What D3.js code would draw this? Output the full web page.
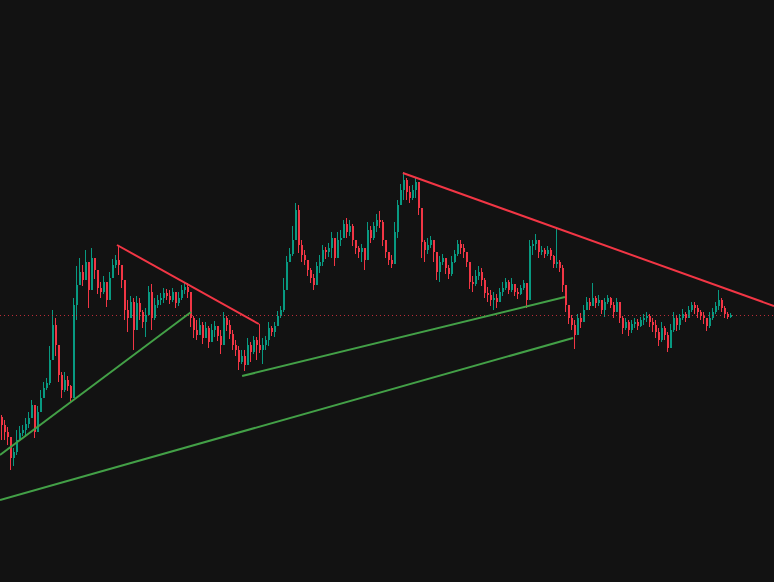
<!DOCTYPE html>
<html>
<head>
<meta charset="utf-8">
<script src="https://cdn.jsdelivr.net/npm/d3@7"></script>
<style>
  html, body { margin: 0; padding: 0; background: #121212; }
  #chart { width: 774px; height: 582px; }
</style>
</head>
<body>
<div id="chart"></div>
<script>
// candle values (open = previous close)
var closes = [175,168,163,142,148,160,167,170,176,182,195,168,188,202,212,217,240,275,255,225,
  210,220,214,202,295,315,328,320,338,310,342,330,312,308,318,300,322,335,340,335,
  320,290,282,298,270,297,288,278,285,308,282,295,300,302,307,304,300,308,297,302,
  310,313,308,282,270,265,275,262,272,258,270,274,264,255,282,275,266,255,250,238,
  244,235,255,248,260,255,250,255,260,272,268,274,284,290,310,338,346,360,390,355,
  345,340,330,322,315,334,338,350,348,352,362,342,360,362,376,368,374,360,352,348,
  352,340,370,362,374,380,378,360,348,340,336,368,395,410,420,408,402,410,418,392,
  358,350,355,360,348,328,338,342,332,326,338,346,356,352,348,338,318,316,324,328,
  320,307,305,300,302,298,308,312,318,310,316,308,306,312,317,300,354,356,360,348,
  350,346,350,344,336,338,332,315,295,282,275,265,282,278,290,298,294,302,297,300,
  290,298,302,295,288,298,282,272,278,270,276,278,274,280,282,284,278,275,268,260,
  272,265,252,270,282,275,282,286,282,290,295,292,288,284,282,274,282,288,294,300,
  292,286,283,285]

var highs = [185,180,173,162,152,170,174,175,182,188,200,188,194,210,218,222,254,290,282,250,
  228,228,224,215,302,334,342,335,350,335,352,340,328,318,324,318,328,341,345,355,
  334,315,300,304,302,304,302,290,292,314,316,302,305,307,312,311,310,312,306,308,
  315,318,317,308,284,280,282,278,278,274,276,279,272,270,288,284,280,270,260,254,
  250,250,262,258,264,263,276,262,264,278,274,278,289,294,322,344,352,374,397,395,
  360,350,338,332,326,338,345,355,353,357,368,360,368,370,380,382,380,376,360,354,
  356,350,378,374,378,386,389,380,356,348,345,378,400,416,428,422,414,415,423,410,
  392,360,362,364,360,338,344,346,342,335,344,350,360,360,356,348,338,324,330,334,
  332,322,313,310,308,306,312,318,322,320,322,314,312,315,320,316,360,360,366,360,
  354,352,354,352,345,372,340,335,312,295,285,280,286,287,295,303,302,317,304,305,
  300,302,305,303,298,302,296,284,282,280,280,282,281,283,286,288,286,282,280,272,
  278,274,268,276,288,285,286,291,288,294,298,298,295,290,288,282,288,292,298,310,
  302,294,288,287]

var lows = [160,160,155,130,134,145,159,164,163,172,182,162,172,190,202,210,215,250,244,218,
  202,208,209,197,205,280,315,314,325,292,317,321,306,302,306,293,302,322,332,325,
  312,280,268,282,250,288,280,272,263,288,270,280,292,295,297,300,296,298,292,294,
  300,306,302,273,262,260,266,256,262,252,262,263,259,246,268,269,261,250,244,230,
  236,229,242,238,246,240,247,236,250,254,264,263,274,282,288,320,338,344,365,347,
  338,335,324,317,310,320,327,334,341,343,342,334,348,354,366,362,364,354,346,342,
  338,330,345,357,360,368,372,354,342,335,332,338,362,395,400,400,397,400,402,385,
  342,338,346,352,338,320,318,335,326,321,324,337,344,346,342,333,311,308,314,320,
  314,302,298,294,290,292,300,304,310,306,308,304,301,305,310,292,306,345,350,342,
  345,342,344,340,332,332,328,308,288,276,270,251,268,272,280,290,290,296,292,294,
  286,283,296,292,282,290,277,266,270,264,267,272,270,273,275,278,273,268,262,254,
  258,260,248,255,268,269,270,280,278,282,288,286,282,280,276,269,272,280,286,290,
  288,282,281,282]

// trend lines: [startIndex, startPrice, endIndex, endPrice]
var redLines = [
  [38.5, 355, 85.8, 276],
  [133.8, 427, 257.5, 294]
]
var greenLines = [
  [-0.5, 145, 63.2, 288],
  [80.2, 224, 187.8, 303],
  [-0.5, 100, 190.5, 262]
]

var width = 774,
    height = 582;

var candles = closes.map(function(c, i) {
  var o = i === 0 ? c + 8 : closes[i - 1];
  return {
    i: i,
    open: o,
    close: c,
    high: Math.max(highs[i], o, c),
    low: Math.min(lows[i], o, c)
  };
});

var svg = d3.select('#chart')
  .append('svg')
  .attr('width', width)
  .attr('height', height)

svg.append('rect')
  .attr('width', width)
  .attr('height', height)
  .attr('fill', '#121212')

var x = d3.scaleLinear().domain([0, 1]).range([1.5, 4.5])
var y = d3.scaleLinear().domain([0, 600]).range([600, 0])

function color(d) {
  return d.close >= d.open ? '#089981' : '#f23645'
}

var g = svg.append('g').attr('shape-rendering', 'crispEdges')

// wicks
g.selectAll('.wick')
  .data(candles)
  .enter().append('rect')
  .attr('class', 'wick')
  .attr('x', function(d) { return Math.floor(x(d.i)) })
  .attr('width', 1)
  .attr('y', function(d) { return y(d.high) })
  .attr('height', function(d) { return Math.max(1, y(d.low) - y(d.high)) })
  .attr('fill', color)

// bodies
g.selectAll('.body')
  .data(candles)
  .enter().append('rect')
  .attr('class', 'body')
  .attr('x', function(d) { return Math.floor(x(d.i)) })
  .attr('width', 2)
  .attr('y', function(d) { return y(Math.max(d.open, d.close)) })
  .attr('height', function(d) { return Math.max(1, Math.abs(y(d.open) - y(d.close))) })
  .attr('fill', color)

// last price line
var last = closes[closes.length - 1]
svg.append('line')
  .attr('x1', 0)
  .attr('x2', width)
  .attr('y1', Math.round(y(last)) + 0.5)
  .attr('y2', Math.round(y(last)) + 0.5)
  .attr('stroke', '#f23645')
  .attr('stroke-opacity', 0.75)
  .attr('stroke-width', 1)
  .attr('stroke-dasharray', '1,3')

function drawLines(data, stroke) {
  svg.selectAll(null)
    .data(data)
    .enter().append('line')
    .attr('x1', function(d) { return x(d[0]) })
    .attr('y1', function(d) { return y(d[1]) })
    .attr('x2', function(d) { return x(d[2]) })
    .attr('y2', function(d) { return y(d[3]) })
    .attr('stroke', stroke)
    .attr('stroke-width', 2)
}

drawLines(greenLines, '#43a047')
drawLines(redLines, '#f23645')
</script>
</body>
</html>
